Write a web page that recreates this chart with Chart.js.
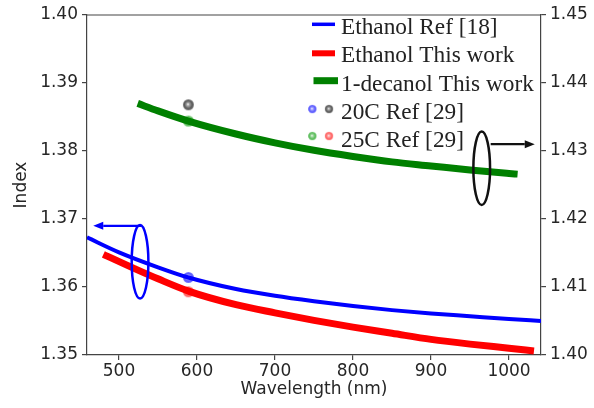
<!DOCTYPE html>
<html lang="en">
<head>
<meta charset="UTF-8">
<title>Index vs Wavelength</title>
<script src="https://cdn.jsdelivr.net/npm/chart.js"></script>
<style>
  html, body { margin: 0; padding: 0; background: #fff; }
</style>
</head>
<body>
<canvas id="chart" width="594" height="408"></canvas>
<script>
// Ethanol Ref [18]  (left axis)
const ethRefWl = [459, 500, 550, 589, 650, 700, 750, 800, 850, 900, 950, 1000, 1041];
const ethRefN  = [1.3673, 1.3651, 1.3629, 1.3614, 1.3597, 1.3587, 1.3579, 1.3572, 1.3566, 1.3561, 1.3557, 1.3553, 1.3550];

// Ethanol This work  (left axis)
const ethWorkWl = [480, 520, 550, 589, 650, 700, 750, 800, 850, 900, 950, 1000, 1032];
const ethWorkN  = [1.3648, 1.3627, 1.3612, 1.3594, 1.3574, 1.3562, 1.3551, 1.3541, 1.3532, 1.3523, 1.3516, 1.3510, 1.3506];

// 1-decanol This work  (right axis)
const decWl = [524, 550, 589, 650, 700, 750, 800, 850, 900, 950, 1000, 1011];
const decN  = [1.4370, 1.4359, 1.4344, 1.4325, 1.4312, 1.4301, 1.4292, 1.4284, 1.4278, 1.4272, 1.4267, 1.4266];

// Ref [29] single points at 589 nm
const refWl = 589;
const eth20 = 1.3614;   // blue, left
const eth25 = 1.3593;   // red, left
const dec20 = 1.4368;   // gray, right
const dec25 = 1.4344;   // green, right

const xTicks = [500, 600, 700, 800, 900, 1000];
const yLeftTicks = [1.35, 1.36, 1.37, 1.38, 1.39, 1.40];
const yRightTicks = [1.40, 1.41, 1.42, 1.43, 1.44, 1.45];

const legendLabels = ['Ethanol Ref [18]', 'Ethanol This work', '1-decanol This work', '20C Ref [29]', '25C Ref [29]'];

const pairs = (xs, ys) => xs.map((x, i) => ({ x: x, y: ys[i] }));

// little shaded ball used as marker
function ball(rgb, r) {
    const s = Math.ceil(r * 2 + 2);
    const c = document.createElement('canvas');
    c.width = s; c.height = s;
    const g = c.getContext('2d');
    const grd = g.createRadialGradient(s / 2 - 0.5, s / 2 - 0.5, 0.3, s / 2, s / 2, r);
    grd.addColorStop(0, 'rgba(255,255,255,0.95)');
    grd.addColorStop(0.3, 'rgba(' + rgb + ',0.55)');
    grd.addColorStop(0.7, 'rgba(' + rgb + ',0.9)');
    grd.addColorStop(1, 'rgba(' + rgb + ',0.7)');
    g.fillStyle = grd;
    g.beginPath();
    g.arc(s / 2, s / 2, r, 0, Math.PI * 2);
    g.fill();
    return c;
}

const blueBall = ball('70,70,255', 5.5);
const redBall = ball('255,80,80', 5.5);
const grayBall = ball('70,70,70', 5.5);
const greenBall = ball('70,180,70', 5.5);

function markerSet(val, axis, img) {
    return {
        type: 'line',
        data: [{ x: refWl, y: val }],
        yAxisID: axis,
        showLine: false,
        pointStyle: img,
        pointRadius: 5,
        pointHoverRadius: 5
    };
}

function arrow(ctx, x1, y1, x2, y2, color) {
    const ang = Math.atan2(y2 - y1, x2 - x1);
    const hl = 10, hw = 4;
    ctx.strokeStyle = color;
    ctx.fillStyle = color;
    ctx.lineWidth = 2.2;
    ctx.beginPath();
    ctx.moveTo(x1, y1);
    ctx.lineTo(x2 - hl * Math.cos(ang), y2 - hl * Math.sin(ang));
    ctx.stroke();
    ctx.beginPath();
    ctx.moveTo(x2, y2);
    ctx.lineTo(x2 - hl * Math.cos(ang) - hw * Math.sin(ang), y2 - hl * Math.sin(ang) + hw * Math.cos(ang));
    ctx.lineTo(x2 - hl * Math.cos(ang) + hw * Math.sin(ang), y2 - hl * Math.sin(ang) - hw * Math.cos(ang));
    ctx.closePath();
    ctx.fill();
}

const extras = {
    id: 'extras',
    afterDatasetsDraw(chart) {
        const ctx = chart.ctx;
        const x = chart.scales.x, yl = chart.scales.y, yr = chart.scales.y2;
        const area = chart.chartArea;
        ctx.save();

        // top spine
        ctx.strokeStyle = '#444';
        ctx.lineWidth = 1.2;
        ctx.beginPath();
        ctx.moveTo(area.left, area.top);
        ctx.lineTo(area.right, area.top);
        ctx.stroke();

        // blue ellipse + arrow to left axis
        let cx = x.getPixelForValue(527), cy = yl.getPixelForValue(1.3637);
        let rx = x.getPixelForValue(537.7) - cx, ry = cy - yl.getPixelForValue(1.3691);
        ctx.strokeStyle = '#0000ff';
        ctx.lineWidth = 2.5;
        ctx.beginPath();
        ctx.ellipse(cx, cy, rx, ry, 0, 0, Math.PI * 2);
        ctx.stroke();
        arrow(ctx, x.getPixelForValue(529), yl.getPixelForValue(1.3690),
              x.getPixelForValue(467), yl.getPixelForValue(1.3690), '#0000ff');

        // black ellipse + arrow to right axis
        cx = x.getPixelForValue(965); cy = yr.getPixelForValue(1.42745);
        rx = x.getPixelForValue(975.7) - cx; ry = cy - yr.getPixelForValue(1.43285);
        ctx.strokeStyle = '#111';
        ctx.lineWidth = 2.5;
        ctx.beginPath();
        ctx.ellipse(cx, cy, rx, ry, 0, 0, Math.PI * 2);
        ctx.stroke();
        arrow(ctx, x.getPixelForValue(976.5), yr.getPixelForValue(1.4310),
              x.getPixelForValue(1033), yr.getPixelForValue(1.4310), '#111');

        // legend
        const tx = 341, base = 34.3, step = 28.1;
        ctx.lineCap = 'butt';
        ctx.lineWidth = 3.5; ctx.strokeStyle = '#0000ff';
        ctx.beginPath(); ctx.moveTo(312, 24.3); ctx.lineTo(335, 24.3); ctx.stroke();
        ctx.lineWidth = 6; ctx.strokeStyle = '#ff0000';
        ctx.beginPath(); ctx.moveTo(312, 53.3); ctx.lineTo(335, 53.3); ctx.stroke();
        ctx.lineWidth = 7; ctx.strokeStyle = '#008000';
        ctx.beginPath(); ctx.moveTo(313.5, 80.7); ctx.lineTo(338, 80.7); ctx.stroke();
        const m = 5;
        ctx.drawImage(blueBall, 312.3 - m, 109 - m, 2 * m, 2 * m);
        ctx.drawImage(grayBall, 329 - m, 109 - m, 2 * m, 2 * m);
        ctx.drawImage(greenBall, 312.3 - m, 136 - m, 2 * m, 2 * m);
        ctx.drawImage(redBall, 329 - m, 136 - m, 2 * m, 2 * m);

        ctx.font = '23.3px "Liberation Serif"';
        ctx.fillStyle = '#222';
        ctx.textBaseline = 'alphabetic';
        ctx.textAlign = 'left';
        legendLabels.forEach((t, i) => ctx.fillText(t, tx, base + step * i));
        ctx.restore();
    }
};

const tickFont = { family: 'DejaVu Sans', size: 17 };
const axisGrid = { display: true, drawOnChartArea: false, drawTicks: true, tickLength: 5, color: '#444', tickColor: '#444', lineWidth: 1.2 };
const axisBorder = { display: true, color: '#444', width: 1.2 };

new Chart(document.getElementById('chart'), {
    type: 'line',
    data: {
        datasets: [
            {
                data: pairs(ethRefWl, ethRefN), yAxisID: 'y',
                borderColor: '#0000ff', borderWidth: 4, pointRadius: 0,
                cubicInterpolationMode: 'monotone', borderCapStyle: 'butt'
            },
            {
                data: pairs(ethWorkWl, ethWorkN), yAxisID: 'y',
                borderColor: '#ff0000', borderWidth: 7, pointRadius: 0,
                cubicInterpolationMode: 'monotone', borderCapStyle: 'butt'
            },
            {
                data: pairs(decWl, decN), yAxisID: 'y2',
                borderColor: '#008000', borderWidth: 7, pointRadius: 0,
                cubicInterpolationMode: 'monotone', borderCapStyle: 'butt'
            },
            markerSet(eth20, 'y', blueBall),
            markerSet(eth25, 'y', redBall),
            markerSet(dec20, 'y2', grayBall),
            markerSet(dec25, 'y2', greenBall)
        ]
    },
    options: {
        responsive: false,
        animation: false,
        layout: { padding: { top: 15, left: 0, right: 0, bottom: 0 } },
        plugins: { legend: { display: false }, tooltip: { enabled: false } },
        scales: {
            x: {
                type: 'linear', min: 459, max: 1041,
                afterBuildTicks: s => { s.ticks = xTicks.map(v => ({ value: v })); },
                afterFit: s => { s.height = 53; },
                ticks: { font: tickFont, color: '#262626', padding: 1, maxRotation: 0, callback: v => String(v) },
                grid: axisGrid, border: axisBorder,
                title: { display: true, text: 'Wavelength (nm)', font: tickFont, color: '#262626', padding: { top: 0, bottom: 8 } }
            },
            y: {
                position: 'left', min: 1.35, max: 1.40,
                afterBuildTicks: s => { s.ticks = yLeftTicks.map(v => ({ value: v })); },
                afterFit: s => { s.width = 87; },
                ticks: { font: tickFont, color: '#262626', padding: 4, callback: v => v.toFixed(2) },
                grid: axisGrid, border: axisBorder,
                title: { display: true, text: 'Index', font: tickFont, color: '#262626', padding: { top: 11, bottom: 0 } }
            },
            y2: {
                position: 'right', min: 1.40, max: 1.45,
                afterBuildTicks: s => { s.ticks = yRightTicks.map(v => ({ value: v })); },
                afterFit: s => { s.width = 53; },
                ticks: { font: tickFont, color: '#262626', padding: 4, callback: v => v.toFixed(2) },
                grid: axisGrid, border: axisBorder
            }
        }
    },
    plugins: [extras]
});
</script>
</body>
</html>
